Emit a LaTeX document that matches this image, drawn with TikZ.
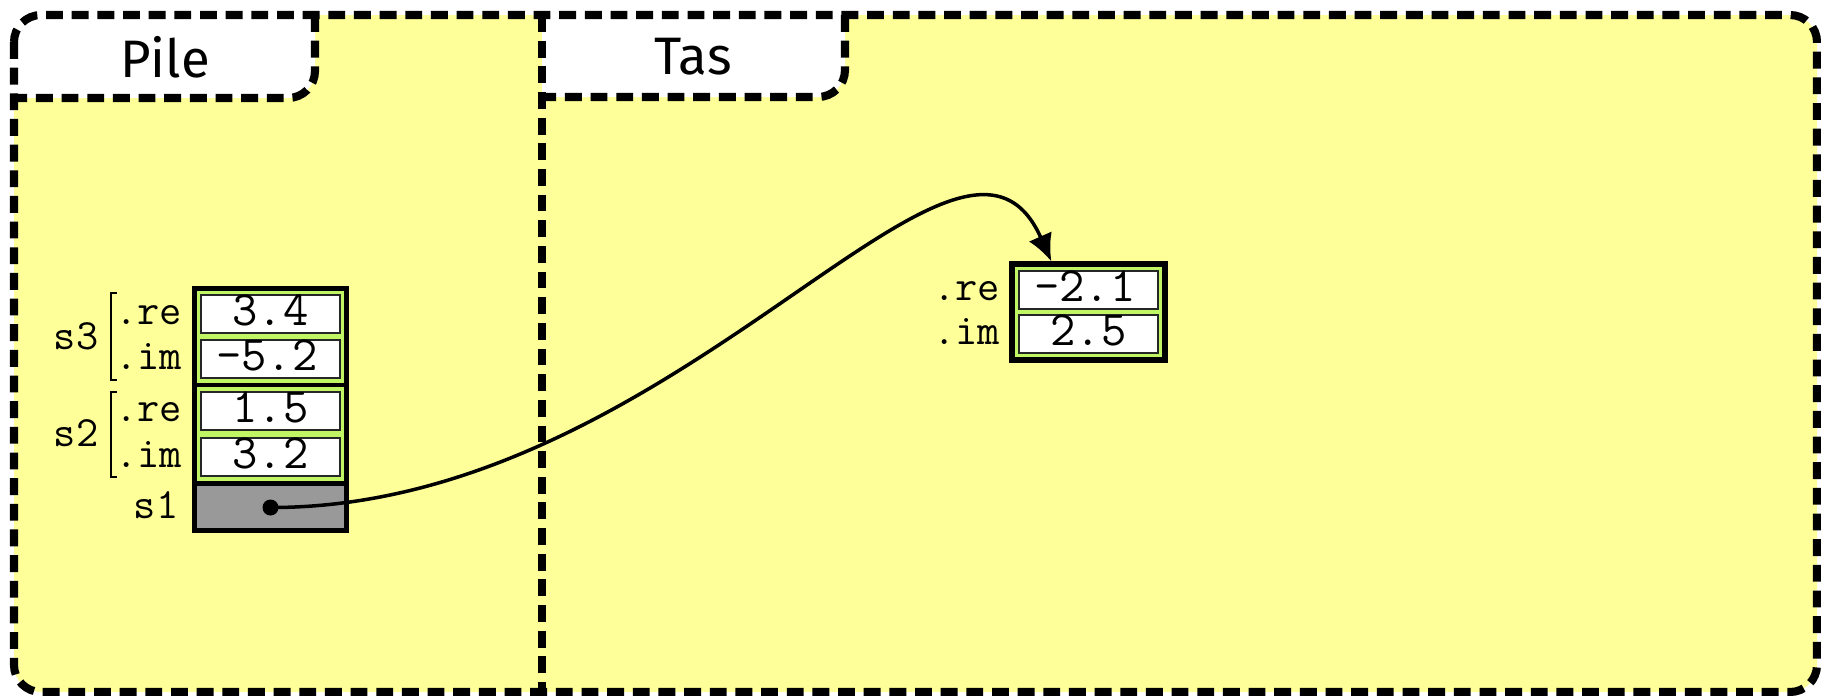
\documentclass[tikz,border=0pt]{standalone}
\usepackage{fontspec}
\newfontfamily\titrefont{Fira Sans}
\usetikzlibrary{arrows.meta,fit,backgrounds,positioning}
\pgfdeclarelayer{zones}
\pgfsetlayers{zones,background,main}
\definecolor{fondjaune}{RGB}{255,255,153}
\definecolor{vertcase}{RGB}{192,245,100}
\definecolor{grisptr}{RGB}{153,153,153}
\tikzset{
	memoire/.style={>={Latex[length=2.7mm,width=2.5mm]}},
	cadre/.style={draw, line width=2.3pt, dash pattern=on 4.8pt off 2.5pt},
	onglet/.style={font=\titrefont\fontsize{15}{18}\selectfont, inner sep=0pt},
	case/.style={draw=black!85, line width=0.6pt, fill=white, text width=1.09cm,
	             align=left, minimum height=0.38cm, inner xsep=0.15cm, inner ysep=0pt,
	             text height=1.6ex, text depth=0.1ex,
	             font=\ttfamily\fontsize{14}{16}\selectfont},
	groupe/.style={draw, line width=1.1pt, fill=vertcase, inner xsep=0.06cm, inner ysep=0.06cm},
	pointeur/.style={draw, line width=1.2pt, fill=grisptr, minimum width=1.53cm,
	                 minimum height=0.47cm, inner sep=0pt},
	champ/.style={font=\ttfamily\fontsize{12.3}{14}\selectfont, inner sep=0pt,
	              text height=1.5ex, text depth=0.1ex},
	crochet/.style={line width=0.5pt},
	fleche/.style={->, line width=1pt},
}

\begin{document}
\begin{tikzpicture}[memoire]

\useasboundingbox (0,0) rectangle (18.21,-6.95);

% zones
\begin{pgfonlayer}{zones}
\fill[fondjaune, rounded corners=0.27cm] (0.14,-0.15) rectangle (18.17,-6.92);
\fill[white] (0.14,-0.98) -- (0.14,-0.42) arc(180:90:0.27) -- (3.15,-0.15)
    -- (3.15,-0.71) arc(0:-90:0.27) -- cycle;
\fill[white] (5.42,-0.97) -- (5.42,-0.15) -- (8.45,-0.15)
    -- (8.45,-0.70) arc(0:-90:0.27) -- cycle;
\draw[cadre] (3.15,-0.15) -- (3.15,-0.71) arc(0:-90:0.27) -- (0.14,-0.98);
\draw[cadre] (8.45,-0.15) -- (8.45,-0.70) arc(0:-90:0.27) -- (5.42,-0.97);
\draw[cadre] (5.42,-0.15) -- (5.42,-6.92);
\draw[cadre, rounded corners=0.27cm] (0.14,-0.15) rectangle (18.17,-6.92);
\end{pgfonlayer}

\node[onglet] (pile) at (1.65,-0.57) {Pile};
\node[onglet] (tas) at (6.93,-0.57) {Tas};

% pile
\node[case] (s3re) at (2.705,-3.14) {~3.4};
\node[case] (s3im) at (2.705,-3.59) {-5.2};
\node[case] (s2re) at (2.705,-4.11) {~1.5};
\node[case] (s2im) at (2.705,-4.57) {~3.2};
\node[pointeur] (s1) at (2.705,-5.075) {};
\begin{scope}[on background layer]
	\node[groupe, fit=(s3re)(s3im)] (s3) {};
	\node[groupe, fit=(s2re)(s2im)] (s2) {};
\end{scope}
\node[draw, line width=1.4pt, inner sep=-0.03cm, fit=(s3)(s1)] (pilecases) {};

\node[champ, left=0.17cm of s3re] {.re};
\node[champ, left=0.17cm of s3im] {.im};
\node[champ, left=0.17cm of s2re] {.re};
\node[champ, left=0.17cm of s2im] {.im};
\node[champ, anchor=east] (ns3) at (0.99,-3.39) {s3};
\node[champ, anchor=east] (ns2) at (0.99,-4.36) {s2};
\node[champ, anchor=east] (ns1) at (1.79,-5.08) {s1};
\draw[crochet] (1.17,-2.93) -- (1.11,-2.93) -- (1.11,-3.80) -- (1.17,-3.80);
\draw[crochet] (1.17,-3.92) -- (1.11,-3.92) -- (1.11,-4.77) -- (1.17,-4.77);

% tas
\node[case] (hre) at (10.885,-2.90) {-2.1};
\node[case] (him) at (10.885,-3.34) {~2.5};
\begin{scope}[on background layer]
	\node[groupe, line width=1.5pt, fit=(hre)(him)] (cplx) {};
\end{scope}
\node[champ, left=0.17cm of hre] {.re};
\node[champ, left=0.17cm of him] {.im};

% pointeur
\fill (s1.center) circle (0.08);
\draw[fleche] (s1.center) .. controls (6.80,-5.08) and (9.60,-0.55)
    .. ([xshift=0.42cm]cplx.north west);

\end{tikzpicture}
\end{document}
